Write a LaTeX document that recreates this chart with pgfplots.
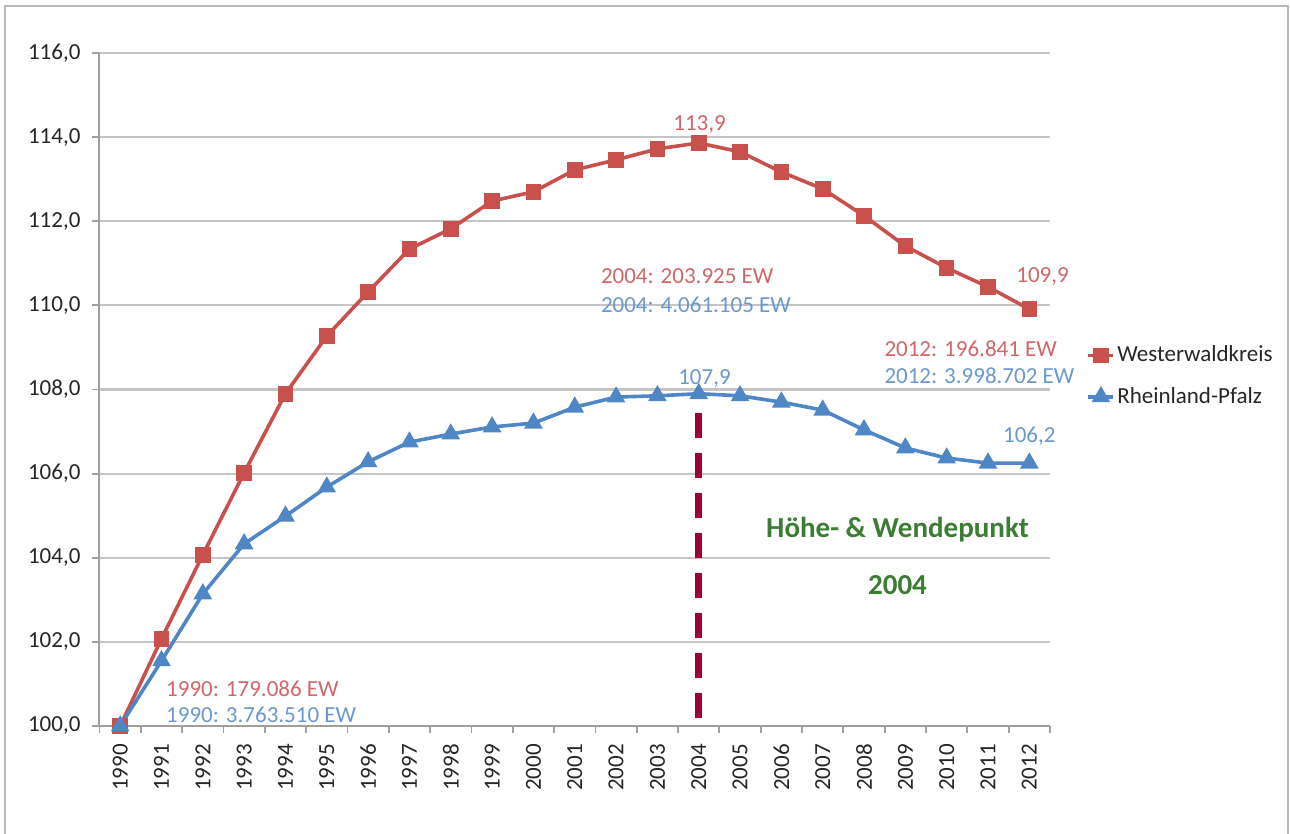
\documentclass[border=0pt]{standalone}
\usepackage{pgfplots}
\pgfplotsset{compat=1.18}
\usepackage{fontspec}
\setmainfont{Carlito}
\definecolor{wwk}{HTML}{C8504D}
\definecolor{rlp}{HTML}{4F86C6}
\definecolor{wwkt}{HTML}{D06668}
\definecolor{rlpt}{HTML}{6B98CC}
\definecolor{dashc}{HTML}{9C0036}
\definecolor{grn}{HTML}{3A7D33}
\definecolor{gridc}{HTML}{C4C4C4}
\begin{document}
\fontsize{11.5}{13.8}\selectfont
\begin{tikzpicture}
\path[use as bounding box] (-49.75pt,-54pt) rectangle (595.25pt,363pt);
\draw[gray!55, line width=0.8pt] (-47.25pt,-60pt) -- (-47.25pt,360pt) -- (594.25pt,360pt) -- (594.25pt,-60pt);
\begin{axis}[
  at={(0,0)}, anchor=south west,
  scale only axis, width=475.25pt, height=336.5pt,
  xmin=-0.5, xmax=22.5, ymin=100, ymax=116,
  clip=false,
  axis x line*=bottom, axis y line*=left,
  axis line style={-, draw=gray!75, line width=1pt},
  ytick={100,102,...,116},
  ymajorgrids, grid style={draw=gridc, line width=1.1pt},
  tick align=outside, major tick length=3.5pt,
  tick style={draw=gray!75, line width=0.9pt},
  yticklabel style={color=black!85, xshift=-2pt},
  /pgf/number format/.cd, fixed, fixed zerofill, precision=1, use comma, 1000 sep={}, assume math mode=true,
  /pgfplots/.cd,
  xtick={-0.5,0.5,...,22.5}, xticklabels={},
  extra x ticks={0,1,...,22},
  extra x tick labels={1990,1991,1992,1993,1994,1995,1996,1997,1998,1999,2000,2001,2002,2003,2004,2005,2006,2007,2008,2009,2010,2011,2012},
  extra x tick style={major tick length=0pt, tick label style={rotate=90, anchor=east, yshift=0pt, xshift=-5pt, color=black!85}},
  legend style={at={(1.036,0.52)}, anchor=west, draw=none, fill=none, row sep=7pt, text=black!85,
    inner sep=1pt, nodes={inner xsep=1pt}},
  legend image code/.code={\draw[mark repeat=2,mark phase=2] plot coordinates {(0cm,0cm) (0.22cm,0cm) (0.44cm,0cm)};},
  legend cell align=left,
]
\addplot[wwk, line width=1.8pt, mark=square*, mark size=3pt, mark options={solid, fill=wwk}] coordinates {
(0,100.0) (1,102.07) (2,104.07) (3,106.02) (4,107.9) (5,109.27) (6,110.32) (7,111.34) (8,111.82) (9,112.48) (10,112.7) (11,113.22) (12,113.46) (13,113.72) (14,113.86) (15,113.65) (16,113.17) (17,112.77) (18,112.13) (19,111.41) (20,110.89) (21,110.44) (22,109.91)};
\addlegendentry{Westerwaldkreis}
\addplot[rlp, line width=1.8pt, mark=triangle*, mark size=3.6pt, mark options={solid, fill=rlp}] coordinates {
(0,100.0) (1,101.55) (2,103.14) (3,104.33) (4,104.99) (5,105.68) (6,106.28) (7,106.75) (8,106.94) (9,107.11) (10,107.2) (11,107.58) (12,107.82) (13,107.85) (14,107.9) (15,107.85) (16,107.7) (17,107.51) (18,107.04) (19,106.61) (20,106.37) (21,106.25) (22,106.25)};
\addlegendentry{Rheinland-Pfalz}
\addplot[dashc, line width=3.5pt, dash pattern=on 12.5pt off 7.5pt, forget plot] coordinates {(14,107.44) (14,100.2)};
\node[wwkt] at (axis cs:14.02,114.31) {113,9};
\node[wwkt, anchor=west] at (axis cs:11.44,110.70) {2004: 203.925 EW};
\node[rlpt, anchor=west] at (axis cs:11.44,110.01) {2004: 4.061.105 EW};
\node[wwkt] at (axis cs:22.32,110.68) {109,9};
\node[wwkt, anchor=west] at (axis cs:18.30,108.96) {2012: 196.841 EW};
\node[rlpt, anchor=west] at (axis cs:18.30,108.32) {2012: 3.998.702 EW};
\node[rlpt] at (axis cs:14.14,108.27) {107,9};
\node[rlpt] at (axis cs:22.0,106.89) {106,2};
\node[wwkt, anchor=west] at (axis cs:0.92,100.88) {1990: 179.086 EW};
\node[rlpt, anchor=west] at (axis cs:0.92,100.26) {1990: 3.763.510 EW};
\node[grn, font=\fontsize{14.5}{17}\selectfont\bfseries] at (axis cs:18.81,104.66) {Höhe- \& Wendepunkt};
\node[grn, font=\fontsize{14.5}{17}\selectfont\bfseries] at (axis cs:18.81,103.35) {2004};
\end{axis}
\end{tikzpicture}
\end{document}
